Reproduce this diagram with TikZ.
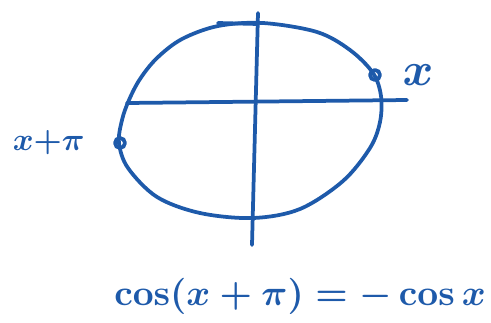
\documentclass[tikz,border=0pt]{standalone}
\usepackage{amsmath}
\usetikzlibrary{positioning}
\definecolor{ink}{RGB}{30,90,170}

\begin{document}
\begin{tikzpicture}[x=0.03cm,y=-0.03cm,color=ink,line width=3.2pt,line cap=round,line join=round]
  \tikzset{pt/.style={draw,circle,inner sep=0pt,minimum size=0.3cm},
           lbl/.style={inner sep=0pt,font=\boldmath}}
  \useasboundingbox (0,0) rectangle (491,322);

  % axes
  \coordinate (ytop) at (258,13);
  \coordinate (ybot) at (252,245);
  \coordinate (xl) at (127,103);
  \coordinate (xr) at (407,100);
  \draw (ytop) -- (ybot);
  \draw (xl) -- (xr);

  % the circle, drawn by hand
  \draw plot[smooth cycle,tension=0.55] coordinates {(263,23) (317,32) (350,50) (373,73) (381,96)
    (380,122) (370,148) (343,181) (300,209) (253,218) (200,213) (157,197) (128,168) (119,143)
    (122,120) (129,100) (140,79) (157,58) (182,39) (218,26)};
  \draw (218,23) -- (258,24);

  \node[pt] (px) at (375,75) {};
  \node[pt] (pxpi) at (120,143) {};
  \node[lbl,scale=4,right=0.4cm of px] (lx) {$x$};
  \node[lbl,scale=2.7,left=0.7cm of pxpi] (lxpi) {$x{+}\pi$};

  \node[lbl,scale=3.1] (eq) at (300,296) {$\cos(x+\pi) = -\cos x$};
\end{tikzpicture}
\end{document}
